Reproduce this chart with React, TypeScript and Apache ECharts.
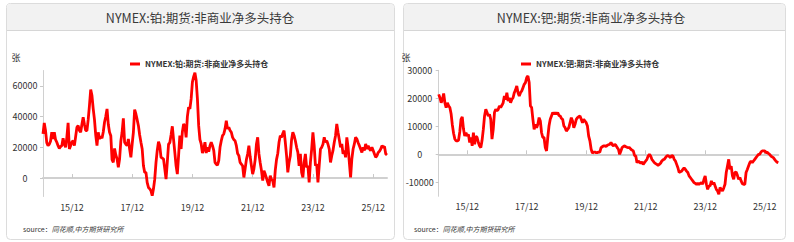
import React, { useEffect, useRef } from 'react';
import * as echarts from 'echarts';

const ptName = 'NYMEX:铂:期货:非商业净多头持仓';
const pdName = 'NYMEX:钯:期货:非商业净多头持仓';
const yUnit = '张';
const sourceLabel = 'source：';
const sourceText = '同花顺,中方期货研究所';

// semi-monthly sample dates, 2014-12-15 .. 2026-05-15
const sampleCount = 275;
const dates: string[] = [];
for (let i = 0; i < sampleCount; i++) {
  const k = Math.floor((i + 1) / 2);
  const m0 = 11 + k; // months since Jan 2014 (0-based)
  const y = 2014 + Math.floor(m0 / 12);
  const m = (m0 % 12) + 1;
  const d = i % 2 === 0 ? '15' : '01';
  dates.push(`${y}-${String(m).padStart(2, '0')}-${d}`);
}

const ptValues = [
  28700, 35900, 31000, 23000, 21100, 22000, 24000, 29800, 25400, 29800,
  25000, 23300, 21100, 19300, 20500, 21100, 25900, 22000, 20000, 26500,
  35900, 18900, 21000, 23300, 24300, 21100, 27000, 33000, 34100, 31000,
  29800, 35000, 39600, 35000, 30900, 30900, 38000, 47200, 57600, 53700,
  45000, 38000, 28000, 21100, 29800, 25400, 27200, 25900, 30000, 36300,
  40000, 45000, 35000, 29800, 27600, 12000, 10200, 19300, 15000, 12400,
  7000, 12400, 24000, 29800, 38900, 23300, 22000, 21100, 25400, 18900,
  13500, 22000, 29800, 44600, 41700, 38000, 34100, 28000, 23300, 18900,
  8000, 3700, 3700, -3000, -6100, -7000, -8300, -11500, -7000, -700,
  10000, 18000, 23700, 21100, 13500, 13000, 12400, 6000, -700, 10200,
  22000, 23000, 28000, 33700, 25000, 16700, 8000, 2600, 14600, 27600,
  18900, 30000, 35200, 33700, 26500, 40000, 46100, 45000, 51500, 62400,
  66000, 68500, 63500, 51500, 34100, 25000, 22200, 16300, 18900, 23300,
  16300, 20000, 17200, 21000, 23300, 21100, 18000, 10200, 9000, 8500,
  11300, 20000, 24300, 27600, 28700, 32000, 37400, 32000, 33000, 31000,
  29800, 26500, 25000, 24300, 21100, 16000, 14600, 10200, 9000, 8000,
  400, 6000, 12000, 15700, 21100, 14000, 8000, 2600, 6000, 12000,
  22000, 26500, 15700, 10000, 5000, -1700, 4800, 2600, 0, -2800,
  -5000, 1500, -1000, -1700, -6100, 5000, 12000, 16000, 23300, 27600,
  26500, 29000, 30900, 23300, 14600, 3700, 10200, 14600, 25000, 29800,
  27600, 24300, 20000, 16700, 8000, 15700, 3700, 400, 10200, 15700,
  7000, 8000, -2800, 10200, 18900, 29800, 21100, 8000, 9100, -2800,
  8000, 18900, 20000, 22000, 26500, 23300, 24300, 22000, 18900, 10200,
  14600, 18000, 23300, 27600, 35200, 29800, 25000, 20000, 22200, 15700,
  17900, 13500, 26500, 20000, 10200, 400, 12400, 18900, 22200, 26500,
  25400, 23000, 21100, 18900, 16700, 20000, 18000, 22200, 18900, 21100,
  19000, 17900, 20000, 17900, 15700, 13500, 14600, 16700, 17500, 18900,
  21100, 20000, 20500, 15700, 15000,
];

const pdValues = [
  21400, 20200, 18400, 19600, 21700, 18400, 16700, 18400, 17300, 16700,
  14500, 10500, 7500, 5500, 4800, 4800, 5000, 8000, 12500, 13400,
  9000, 6500, 7700, 6500, 7100, 4200, 6000, 3000, 7700, 3600,
  6500, 6000, 4200, 3000, 2400, 5000, 8900, 13700, 16100, 14900,
  13700, 14300, 12500, 5400, 8900, 14900, 16100, 15500, 16000, 17300,
  16700, 17500, 18400, 20800, 19600, 22000, 19000, 20200, 18400, 19600,
  20200, 22000, 23000, 24400, 22000, 20800, 22000, 22600, 23800, 25000,
  25600, 27400, 28000, 25600, 17300, 16700, 12500, 8900, 10700, 9500,
  10700, 13100, 11900, 7700, 6000, 6000, 2400, 1200, 6000, 10100,
  12500, 13700, 14900, 14300, 14900, 14300, 14900, 13900, 13700, 12800,
  12500, 10100, 9500, 8300, 8900, 9500, 11300, 13100, 11900, 9500,
  10700, 12500, 13100, 13400, 13700, 12500, 11300, 12500, 11900, 11300,
  10100, 6500, 4800, 1800, 400, 800, 800, 600, 600, 800,
  800, 2400, 2700, 3000, 3000, 2800, 3200, 3400, 3600, 4200,
  3400, 3000, 3600, 3200, 2400, 1800, 0, 1200, 2400, 2800,
  3000, 2700, 2500, 2400, 2400, 1800, 1500, 1200, -400, -600,
  -3000, -2400, -2800, -3200, -2700, -3600, -3000, -2400, -1800, -600,
  0, -600, -1800, -2400, -3000, -3300, -3600, -3900, -3600, -3200,
  -2400, -2000, -1800, -1200, -600, -400, -800, -1200, -400, -600,
  -1800, -2400, -3600, -4800, -6500, -6200, -6000, -5400, -4800, -5400,
  -6000, -6500, -7700, -8300, -8900, -9500, -10100, -10400, -10700, -10400,
  -10700, -10400, -10100, -10700, -9000, -7700, -10700, -12500, -11300, -11300,
  -9500, -10700, -10100, -11300, -12500, -13100, -14300, -11900, -12500, -13100,
  -12000, -10700, -6500, -4200, -1800, -5400, -4200, -7700, -8900, -6500,
  -6300, -7500, -8900, -8300, -9500, -10500, -10700, -10700, -6500, -5400,
  -4200, -3000, -2400, -3000, -2400, -1800, -1200, -600, 0, 0,
  800, 1200, 1200, 1200, 600, 800, 300, 0, -600, -900,
  -1200, -1800, -2400, -2800, -3000,
];

const FONT = '"Noto Sans CJK SC", "Noto Sans", sans-serif';
const TXT = '#333';

const isLabelDate = (v: string) => {
  const [y, m, d] = v.split('-');
  return m === '12' && d === '01' && Number(y) % 2 === 1;
};

function makeX(gridIndex: number) {
  return {
    type: 'category',
    gridIndex,
    data: dates,
    boundaryGap: false,
    axisLine: { lineStyle: { color: '#d0d0d0', width: 2 } },
    axisTick: {
      inside: true,
      length: 4,
      lineStyle: { color: '#c8c8c8' },
      interval: (_i: number, v: string) => isLabelDate(v),
    },
    axisLabel: {
      interval: (_i: number, v: string) => isLabelDate(v),
      formatter: (v: string) => `${v.slice(2, 4)}/${v.slice(5, 7)}`,
      fontSize: 9,
      color: TXT,
      fontFamily: FONT,
      margin: 6,
    },
    splitLine: { show: false },
  };
}

function makeY(gridIndex: number, min: number, max: number, margin: number, showMax: boolean) {
  return {
    type: 'value',
    gridIndex,
    min,
    max,
    splitNumber: 5,
    axisLine: { show: true, lineStyle: { color: '#d0d0d0', width: 1 } },
    axisTick: { show: true, length: 3, lineStyle: { color: '#c8c8c8' } },
    axisLabel: {
      showMinLabel: false,
      showMaxLabel: showMax,
      align: 'center',
      margin,
      fontSize: 9,
      color: TXT,
      fontFamily: FONT,
      padding: [0, 0, 8, 0],
      formatter: (v: number) => String(v),
    },
    splitLine: { show: false },
  };
}

function panel(x: number, w: number, title: string, titleX: number, unitX: number, srcX: number) {
  return [
    {
      type: 'rect', z: -10,
      shape: { x: x + 0.5, y: 3.5, width: w, height: 236, r: 4 },
      style: { fill: '#ffffff', stroke: '#dcdcdc', lineWidth: 1 },
    },
    {
      type: 'rect', z: -9,
      shape: { x: x + 1, y: 4, width: w - 1, height: 26, r: [4, 4, 0, 0] },
      style: { fill: '#f2f2f2' },
    },
    {
      type: 'line', z: -8,
      shape: { x1: x + 1, y1: 30.5, x2: x + w, y2: 30.5 },
      style: { stroke: '#d6d6d6', lineWidth: 1 },
    },
    {
      type: 'text', z: 5,
      x: titleX, y: 17,
      style: { text: title, fontSize: 12.5, fill: '#3a3a3a', fontFamily: FONT, align: 'center', verticalAlign: 'middle' },
    },
    {
      type: 'text', z: 5,
      x: unitX, y: 57,
      style: { text: yUnit, fontSize: 9, fill: TXT, fontFamily: FONT, align: 'center', verticalAlign: 'middle' },
    },
    {
      type: 'text', z: 5,
      x: srcX, y: 229,
      style: {
        text: `{a|${sourceLabel}}{b|${sourceText}}`,
        verticalAlign: 'middle',
        rich: {
          a: { fontSize: 7, fill: TXT, fontFamily: FONT },
          b: { fontSize: 7, fill: TXT, fontFamily: FONT, fontStyle: 'italic' },
        },
      },
    },
  ];
}

export default function App() {
  const ref = useRef<HTMLDivElement>(null);
  useEffect(() => {
    if (!ref.current) return;
    const chart = echarts.init(ref.current, undefined, { renderer: 'svg' });
    const legendCommon = {
      icon: 'rect',
      itemWidth: 10,
      itemHeight: 3,
      top: 55,
      textStyle: { fontSize: 8, fontWeight: 'bold', color: TXT, fontFamily: FONT },
    };
    chart.setOption({
      animation: false,
      backgroundColor: '#ffffff',
      graphic: [
        ...panel(6, 388, ptName, 200, 16, 23),
        ...panel(403, 382, pdName, 591, 406, 414),
      ],
      legend: [
        { ...legendCommon, data: [ptName], left: 125 },
        { ...legendCommon, data: [pdName], left: 516 },
      ],
      grid: [
        { left: 43, top: 70.5, width: 344, height: 126 },
        { left: 438.7, top: 70.3, width: 339.6, height: 126 },
      ],
      xAxis: [makeX(0), makeX(1)],
      yAxis: [
        makeY(0, -12000, 70000, 18, false),
        makeY(1, -15000, 30000, 19, true),
      ],
      series: [
        {
          type: 'line', name: ptName, xAxisIndex: 0, yAxisIndex: 0, data: ptValues,
          showSymbol: false, symbol: 'none',
          lineStyle: { color: '#ff0000', width: 2.8 }, itemStyle: { color: '#ff0000' },
        },
        {
          type: 'line', name: pdName, xAxisIndex: 1, yAxisIndex: 1, data: pdValues,
          showSymbol: false, symbol: 'none',
          lineStyle: { color: '#ff0000', width: 2.8 }, itemStyle: { color: '#ff0000' },
        },
      ],
    });
    return () => chart.dispose();
  }, []);
  return (
    <div
      ref={ref}
      style={{ position: 'fixed', left: 0, top: 0, width: 794, height: 242 }}
    />
  );
}
